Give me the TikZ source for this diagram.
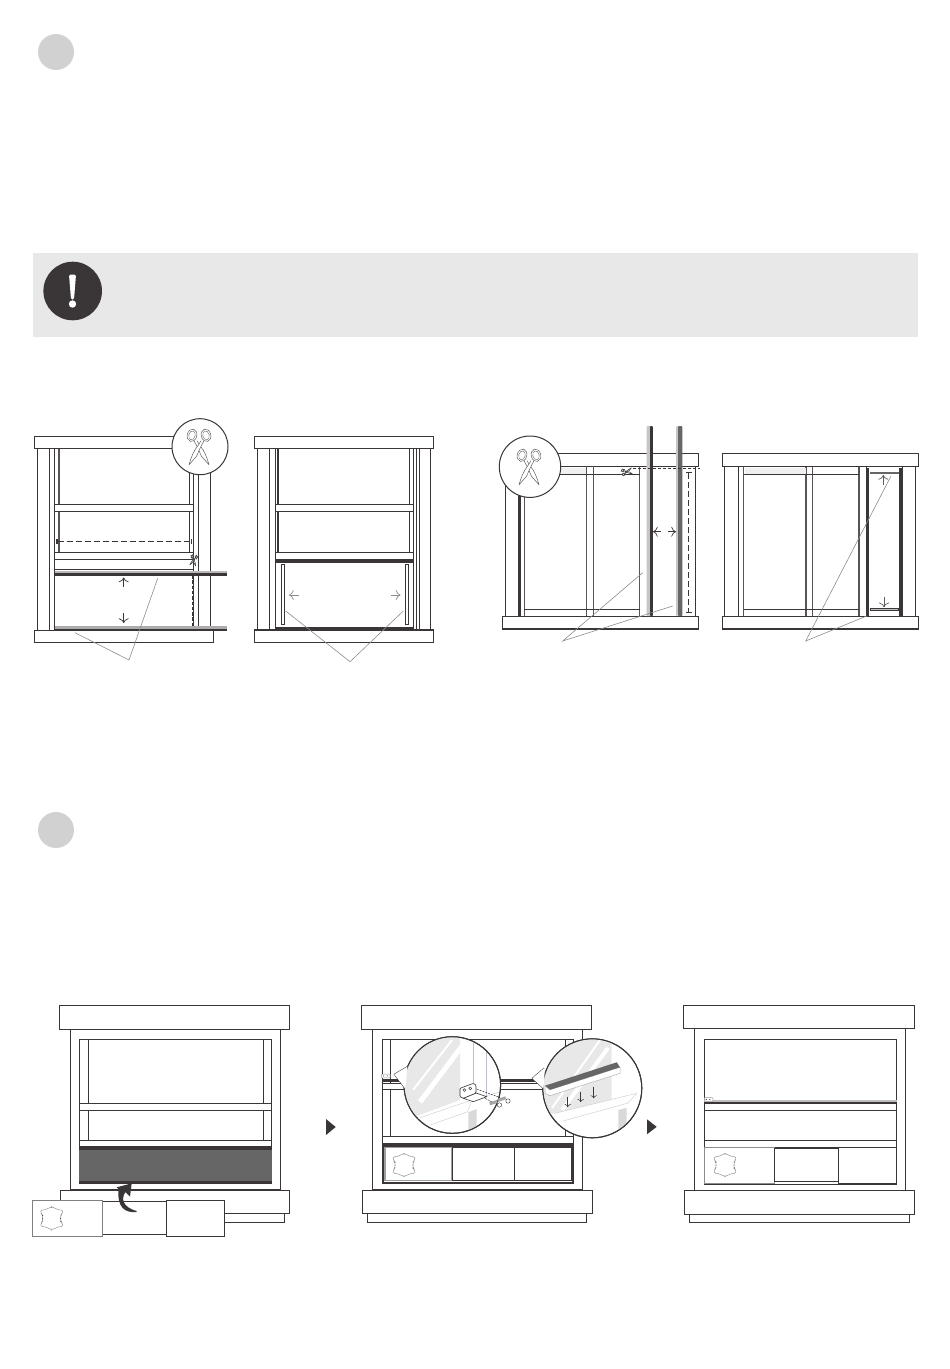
\documentclass[tikz,border=0pt]{standalone}
\usetikzlibrary{arrows.meta}
\definecolor{ink}{HTML}{3A3536}
\definecolor{panelgray}{HTML}{E8E8E8}
\definecolor{stepgray}{HTML}{D1D1D1}
\definecolor{leadgray}{HTML}{8C8C8C}
\definecolor{fillgray}{HTML}{666666}
\tikzset{
  cabline/.style={draw=ink, line width=0.9pt},
  cabbox/.style={cabline, fill=white},
  frameline/.style={draw=ink!85, line width=1.3pt},
  leader/.style={draw=leadgray, line width=0.6pt},
  move/.style={draw=ink, line width=0.7pt, -{>[scale=1.5]}},
  softmove/.style={draw=leadgray, line width=0.7pt, -{>[scale=1.5]}},
  cutline/.style={draw=ink, line width=0.8pt, dash pattern=on 6pt off 3pt},
  bubble/.style={draw=ink, line width=1pt, fill=white},
  shears/.pic={
    \draw[fill=white, draw=#1, line width=0.5pt, line join=round]
    (-5, -7.5) -- (-1.5, -1) -- (2.5, 8) -- (10, 16.5)
    .. controls (8, 9) and (5, 2) .. (1.5, -2) -- (-2, -7.5);
    \draw[fill=white, draw=#1, line width=0.5pt, line join=round]
    (5, -7.5) -- (1.5, -1) -- (-2.5, 8) -- (-10, 16.5)
    .. controls (-8, 9) and (-5, 2) .. (-1.5, -2) -- (2, -7.5);
    \foreach \side in {-1, 1} {
      \draw[fill=white, draw=#1, line width=0.5pt, rotate around={\side*15:(\side*7, -13)}]
      (\side*7, -13) ellipse [x radius=4.8, y radius=6.3];
      \draw[draw=#1, line width=0.4pt, rotate around={\side*15:(\side*7, -13)}]
      (\side*7, -13) ellipse [x radius=3.2, y radius=4.5];
    }
  },
  plate/.pic={
    \draw[draw=leadgray, line width=0.45pt, rounded corners=1.5pt]
    (0, -11.5) -- (8, -8) -- (11, -8.5) -- (10.5, -4.5) -- (9, -3) -- (9, 3)
    -- (10.5, 4.5) -- (11, 8.5) -- (8, 8) -- (0, 11.5) -- (-8, 8) -- (-11, 8.5)
    -- (-10.5, 4.5) -- (-9, 3) -- (-9, -3) -- (-10.5, -4.5) -- (-11, -8.5)
    -- (-8, -8) -- cycle;
    \foreach \xpt/\ypt in {0/-11.5, 0/11.5, -9/0, 9/0, -9/-3, 9/3}
      \fill[ink] (\xpt, \ypt) circle [radius=0.5];
  },
  clip bracket/.pic={
    \draw[draw=gray!80, line width=0.5pt, fill=white, rounded corners=0.5pt] (0, 0) rectangle (8.5, 3.8);
    \fill[ink] (2, 1.9) circle [radius=0.6];
    \fill[ink] (5.5, 1.9) circle [radius=0.6];
  },
}
\begin{document}
\begin{tikzpicture}[x=1pt, y=-1pt]
  \useasboundingbox (0, 0) rectangle (950, 1369);
  % step marks and warning strip
  \fill[stepgray] (56, 52) circle [radius=18];
  \fill[stepgray] (56, 830) circle [radius=18];
  \fill[panelgray] (33, 253) rectangle (918, 337);
  \fill[ink] (72.7, 291) circle [radius=29.3];
  \fill[white, rounded corners=1.5pt] (69, 274.5) -- (76, 274.5) -- (74, 299.5) -- (71, 299.5) -- cycle;
  \fill[white] (72.5, 304) circle [radius=3.7];

  % panel A
  \pgfmathsetmacro{\topa}{436.7}
  \pgfmathsetmacro{\topb}{448.7}
  \pgfmathsetmacro{\lowa}{630}
  \pgfmathsetmacro{\lowb}{642.3}
  \draw[cabline] (37.3, \topb) -- (37.3, \lowa);
  \draw[cabline] (49.3, \topb) -- (49.3, \lowa);
  \draw[cabline] (54.7, \topb) -- (54.7, \lowa);
  \draw[cabline, line width=1.6pt, draw=ink!85] (58.8, \topb) -- (58.8, 504);
  \draw[cabline, line width=1.6pt, draw=ink!85] (58.8, 511) -- (58.8, 552.7);
  \draw[cabline] (189.3, \topb) -- (189.3, 552.7);
  \draw[cabline] (193.3, \topb) -- (193.3, 630);
  \draw[cabline] (198.3, \topb) -- (198.3, 630);
  \draw[cabline] (210.7, \topb) -- (210.7, 630);
  \draw[cabbox] (54.7, 504.3) rectangle (193.3, 511);
  \draw[cabbox] (54.7, 552.7) rectangle (193.3, 559.7);
  \draw[cabline] (54.7, 569.3) -- (193.3, 569.3);
  \draw[cutline] (57.5, 541.3) -- (191, 541.3);
  \fill[ink] (56, 539) rectangle (58, 543.5);
  \draw[cabline] (191, 539) -- (191, 543.5);
  \draw[cutline, line width=1.1pt, dash pattern=on 3.5pt off 1.8pt] (192.7, 575) -- (192.7, 626);
  \fill[gray!55] (54.7, 570.7) rectangle (226.7, 573);
  \fill[ink] (54.7, 573) rectangle (226.7, 575.7);
  \fill[gray!65] (54.7, 625.7) rectangle (226.7, 628.5);
  \fill[ink] (54.7, 628.5) rectangle (226.7, 631);
  \draw[cabline, fill=white] (34.3, 630.3) -- (213.3, 630.3) -- (213.3, \lowb) -- (34.3, \lowb) -- cycle;
  \draw[cabbox] (34.3, \topa) rectangle (213, \topb);
  \draw[move] (123.7, 586.7) -- (123.7, 577.5);
  \draw[move] (123.7, 613) -- (123.7, 623);
  \pic[scale=0.3, rotate=-10] at (193.6, 560.5) {shears=ink};
  \draw[bubble] (200, 446.7) circle [radius=28];
  \pic at (199, 448.3) {shears=gray!75!black};
  \coordinate (leadAa) at (157.7, 578.3);
  \coordinate (leadAb) at (129, 660);
  \coordinate (leadAc) at (75, 632.7);
  \draw[leader] (leadAa) -- (leadAb) -- (leadAc);

  % panel B
  \draw[cabline] (257.7, \topb) -- (257.7, \lowa);
  \draw[cabline] (269.7, \topb) -- (269.7, \lowa);
  \draw[cabline] (275, \topb) -- (275, \lowa);
  \draw[cabline, line width=1.4pt] (278, \topb) -- (278, 504);
  \draw[cabline, line width=1.4pt] (278, 511) -- (278, 552.7);
  \draw[cabline] (409.3, \topb) -- (409.3, 552.7);
  \draw[cabline] (413.7, \topb) -- (413.7, \lowa);
  \draw[cabline, line width=1.4pt] (416.7, \topb) -- (416.7, \lowa);
  \draw[cabline] (419, \topb) -- (419, \lowa);
  \draw[cabline] (430.7, \topb) -- (430.7, \lowa);
  \draw[cabbox] (275, 504.3) rectangle (413.7, 511);
  \draw[cabbox] (275, 552.7) rectangle (413.7, 559.7);
  \fill[ink] (275, 559.7) rectangle (413.7, 562.7);
  \fill[ink] (275, 627) rectangle (413.7, 630.3);
  \draw[cabline, line width=0.7pt] (281.7, 564) rectangle (284.3, 624.3);
  \draw[cabline, line width=0.7pt] (405.2, 564) rectangle (408, 624.3);
  \draw[cabbox, line width=1.1pt] (254.7, \topa) rectangle (433.3, \topb);
  \draw[cabbox, line width=1.1pt] (254.7, \lowa) rectangle (433.3, \lowb);
  \draw[softmove] (299.3, 595) -- (289, 595);
  \draw[softmove] (390.7, 595) -- (400.5, 595);
  \coordinate (leadBa) at (285.7, 611);
  \coordinate (leadBb) at (350, 661.7);
  \coordinate (leadBc) at (403.3, 611);
  \draw[leader] (leadBa) -- (leadBb) -- (leadBc);

  % panel C
  \pgfmathsetmacro{\upa}{453.3}
  \pgfmathsetmacro{\upb}{466.3}
  \pgfmathsetmacro{\dna}{616}
  \pgfmathsetmacro{\dnb}{629}
  \draw[cabbox] (530, \upa) rectangle (698.7, \upb);
  \draw[cabline] (505.7, \upb) -- (505.7, \dna);
  \draw[cabline] (518.3, \upb) -- (518.3, \dna);
  \draw[frameline] (524.3, \upb) -- (524.3, \dna);
  \draw[frameline] (586.7, \upb) -- (586.7, \dna);
  \draw[frameline] (593.3, \upb) -- (593.3, \dna);
  \draw[frameline] (639.7, \upb) -- (639.7, \dna);
  \draw[cabline] (695, \upb) -- (695, \dna);
  \draw[cabline] (524.3, 474.3) -- (639.7, 474.3);
  \draw[cabline] (524.3, 609.3) -- (639.7, 609.3);
  \fill[gray!12] (525, 467.5) rectangle (586, 473.7);
  \fill[ink] (518.6, 466.3) rectangle (521, 616);
  \draw[cabbox] (502.7, \dna) rectangle (698.7, \dnb);
  \draw[cabline, line width=1.5pt] (502.7, \dnb) -- (698.7, \dnb);
  \fill[gray!45, rounded corners=0.8pt] (646.7, 426) rectangle (650.5, 616);
  \fill[ink, rounded corners=0.8pt] (650, 426) rectangle (652.8, 616);
  \fill[gray!45, rounded corners=0.8pt] (676, 426) rectangle (678, 616);
  \fill[fillgray, rounded corners=0.8pt] (678, 426) rectangle (682.3, 616);
  \draw[cutline, line width=0.7pt, dash pattern=on 3pt off 2pt] (633, 468.3) -- (700, 468.3);
  \draw[cutline, line width=0.9pt] (688.7, 473) -- (688.7, 611.5);
  \draw[cabline] (686, 472) -- (691.5, 472);
  \draw[cabline] (686, 612.3) -- (691.5, 612.3);
  \draw[move] (661, 531.7) -- (653, 531.7);
  \draw[move] (668.3, 531.7) -- (676, 531.7);
  \pic[scale=0.3, rotate=100] at (627, 471.7) {shears=ink};
  \draw[bubble] (530, 466.7) circle [radius=30.7];
  \pic at (529, 468.3) {shears=gray!75!black};
  \coordinate (leadCa) at (642.7, 572.7);
  \coordinate (leadCb) at (562.7, 641);
  \coordinate (leadCc) at (672.7, 606);
  \draw[leader] (leadCa) -- (leadCb) -- (leadCc);

  % panel D
  \draw[cabline] (724.3, \upb) -- (724.3, \dna);
  \draw[cabline] (738.3, \upb) -- (738.3, \dna);
  \draw[frameline] (743.5, \upb) -- (743.5, \dna);
  \draw[frameline] (806, \upb) -- (806, \dna);
  \draw[frameline] (812.7, \upb) -- (812.7, \dna);
  \draw[frameline] (859, \upb) -- (859, \dna);
  \draw[cabline] (866, \upb) -- (866, \dna);
  \draw[cabline] (902, \upb) -- (902, \dna);
  \draw[cabline] (915.7, \upb) -- (915.7, \dna);
  \draw[cabline] (743.5, 474.3) -- (859, 474.3);
  \draw[cabline] (743.5, 609.3) -- (859, 609.3);
  \fill[gray!12] (744.5, 467.5) rectangle (805.5, 473.7);
  \fill[ink] (866.7, 467.7) rectangle (869, 616);
  \fill[ink] (899.3, 467.7) rectangle (902, 616);
  \fill[fillgray] (870, 471.7) rectangle (898.7, 474);
  \draw[cabline, line width=0.6pt, fill=gray!50] (870, 608.3) rectangle (898.7, 610.7);
  \draw[cabbox] (722.7, \upa) rectangle (918.3, \upb);
  \draw[cabbox] (722.7, \dna) rectangle (918.3, \dnb);
  \draw[cabline, line width=1.5pt] (722.7, \dnb) -- (918.3, \dnb);
  \draw[softmove, draw=ink!80] (883.3, 485) -- (883.3, 475);
  \draw[softmove, draw=ink!80] (884, 596.7) -- (884, 607.3);
  \coordinate (leadDa) at (891, 476);
  \coordinate (leadDb) at (805.7, 641);
  \coordinate (leadDc) at (866.7, 616);
  \draw[leader] (leadDa) -- (leadDb) -- (leadDc);

  % first cabinet
  \pgfmathsetmacro{\boxa}{1005.3}
  \pgfmathsetmacro{\boxb}{1029.3}
  \pgfmathsetmacro{\basea}{1190.3}
  \pgfmathsetmacro{\baseb}{1213.7}
  \pgfmathsetmacro{\footb}{1222.7}
  \draw[cabbox] (70.7, \boxb) rectangle (280.7, 1189.3);
  \draw[cabbox] (59.3, \boxa) rectangle (289.3, \boxb);
  \draw[cabbox] (79.3, 1039.3) rectangle (271.7, 1183.3);
  \draw[cabline, line width=1.4pt] (79.3, 1039.3) -- (88.3, 1039.3);
  \draw[cabline, line width=1.4pt] (263.3, 1039.3) -- (271.7, 1039.3);
  \draw[cabline] (88.3, 1039.3) -- (88.3, 1140.3);
  \draw[cabline] (263.3, 1039.3) -- (263.3, 1140.3);
  \draw[cabbox] (79.3, 1103.3) rectangle (271.7, 1110.3);
  \draw[cabbox] (79.3, 1140.3) rectangle (271.7, 1146.7);
  \fill[fillgray] (79.3, 1147.3) rectangle (271.7, 1183.3);
  \fill[ink] (79.3, 1147.3) rectangle (271.7, 1150);
  \fill[ink] (79.3, 1180.7) rectangle (271.7, 1183.3);
  \draw[cabbox] (69.5, 1213.7) rectangle (284.3, \footb);
  \draw[cabbox] (60.3, \basea) rectangle (289.3, \baseb);
  \draw[cabbox] (102.3, 1201.3) rectangle (166.3, 1234.3);
  \draw[cabbox] (166.3, 1200.3) rectangle (224.7, 1236.3);
  \draw[draw=gray, line width=1.3pt, fill=white] (32.7, 1200.3) rectangle (102.3, 1236.3);
  \pic at (51.7, 1218.3) {plate};
  \fill[ink] (136.7, 1212) .. controls (125, 1213) and (117, 1208) .. (118.5, 1189)
  -- (116.7, 1187.3) -- (131.7, 1183.3) -- (130, 1196.7) -- (125.5, 1192)
  .. controls (121, 1198) and (122, 1207) .. (136.7, 1211) -- cycle;
  \fill[ink] (326, 1119) -- (335.7, 1127) -- (326, 1135) -- cycle;

  % second cabinet
  \draw[cabbox] (372.7, \boxb) rectangle (582.7, 1189.3);
  \draw[cabbox] (361.3, \boxa) rectangle (591.7, \boxb);
  \draw[cabline] (382.3, 1039.3) rectangle (573.3, 1145);
  \draw[cabline] (390.3, 1039.3) -- (390.3, 1136.3);
  \draw[cabline] (565, 1039.3) -- (565, 1136.3);
  \draw[cabbox] (382.3, 1083.3) rectangle (573.3, 1089);
  \fill[ink] (382.3, 1078.6) rectangle (573.3, 1081.5);
  \draw[cabbox] (382.3, 1136.3) rectangle (573.3, 1143.3);
  \pic at (381.7, 1074) {clip bracket};
  \fill[ink] (382.3, 1143.3) rectangle (574.3, 1145.7);
  \draw[cabbox, line width=1.8pt] (383.2, 1146) rectangle (573.3, 1182.7);
  \draw[draw=gray!75, line width=1.1pt] (385, 1147.3) rectangle (451.7, 1180.3);
  \draw[cabline] (452.7, 1147.3) rectangle (514.3, 1180.3);
  \draw[cabline] (514.3, 1147.3) rectangle (571.7, 1180.3);
  \pic at (404, 1165) {plate};
  \draw[cabbox] (367.3, 1213.7) rectangle (586.7, \footb);
  \draw[cabbox] (362.7, \basea) rectangle (592.7, \baseb);
  \fill[ink] (647, 1119.3) -- (656.7, 1126.8) -- (647, 1134.3) -- cycle;

  % detail with the bracket
  \coordinate (bubbleA) at (452.3, 1085);
  \coordinate (tailA) at (394.3, 1074.3);
  \draw[bubble] (bubbleA) circle [radius=48.3];
  \fill[white] (407.3, 1066.7) -- (tailA) -- (405, 1088.3) -- (412, 1085) -- cycle;
  \draw[ink, line width=1pt] (407.3, 1066.7) -- (tailA) -- (405, 1088.3);
  \begin{scope}
    \clip (bubbleA) circle [radius=47.8];
    \fill[panelgray] (400, 1030) -- (460, 1030) -- (460, 1100) -- (415, 1116.7) -- (400, 1122) -- cycle;
    \draw[white, line width=2pt] (413, 1090) -- (452, 1040);
    \draw[white, line width=5pt] (420, 1102) -- (462, 1046);
    \draw[blue!15!gray!45, line width=0.5pt] (473.3, 1040) -- (473.3, 1084);
    \draw[blue!15!gray!45, line width=0.5pt] (486.7, 1040) -- (486.7, 1096);
    \fill[gray!30] (468.3, 1112.3) -- (476.7, 1109) -- (476.7, 1135) -- (468.3, 1135) -- cycle;
    \draw[gray!35, line width=0.5pt] (420, 1117.7) -- (471.7, 1100) -- (467.7, 1111.7) -- (430, 1125);
    \draw[gray!35, line width=0.5pt] (471.7, 1100) -- (500, 1092);
    \draw[ink, line width=0.6pt, fill=white] (463.3, 1098.3) -- (473.3, 1101.7) -- (486.7, 1096.7) -- (476, 1093) -- cycle;
    \draw[ink, line width=0.6pt, fill=white, rounded corners=1pt] (460, 1088.3) -- (473.3, 1083.3) -- (476, 1085) -- (476, 1093) -- (463.3, 1098.3) -- (460, 1096.7) -- cycle;
    \draw[ink, line width=0.5pt] (464.3, 1090) circle [radius=1.4];
    \draw[ink, line width=0.5pt] (470.3, 1088.3) circle [radius=1.4];
  \end{scope}
  \draw[bubble, fill=none] (bubbleA) circle [radius=48.3];
  \fill[white] (407.3, 1066.7) -- (tailA) -- (405, 1088.3) -- (406.5, 1078) -- cycle;
  \draw[ink, line width=0.5pt, dash pattern=on 2pt off 1pt] (476.7, 1089) -- (500, 1097.5);
  \draw[ink, line width=0.5pt, dash pattern=on 2pt off 1pt] (485, 1098.3) -- (492, 1102);
  \fill[gray!70, rotate around={18:(502, 1099)}] (498, 1097.5) rectangle (506, 1100.5);
  \draw[ink, line width=0.4pt, fill=white] (508, 1101) circle [radius=2.2];
  \fill[gray!70, rotate around={18:(493.3, 1102.7)}] (489.5, 1101.2) rectangle (497.5, 1104.2);
  \draw[ink, line width=0.4pt, fill=white] (499.5, 1105) circle [radius=2.2];

  % detail with the rail
  \coordinate (bubbleB) at (592.3, 1088.3);
  \coordinate (tailB) at (532.3, 1078.3);
  \draw[bubble] (bubbleB) circle [radius=49.5];
  \fill[white] (544, 1068.3) -- (tailB) -- (543.3, 1088.3) -- (549, 1085) -- cycle;
  \draw[ink, line width=1pt] (544, 1068.3) -- (tailB) -- (543.3, 1088.3);
  \begin{scope}
    \clip (bubbleB) circle [radius=49];
    \fill[panelgray] (540, 1030) -- (611.7, 1030) -- (611.7, 1099.4) -- (555, 1113.3) -- (540, 1117) -- cycle;
    \draw[white, line width=2pt] (552, 1108) -- (600, 1040);
    \draw[white, line width=4pt] (562, 1110) -- (608, 1048);
    \fill[gray!30] (618.3, 1110) -- (626.7, 1107.7) -- (626.7, 1140) -- (618.3, 1140) -- cycle;
    \draw[gray!35, line width=0.5pt] (555, 1113.3) -- (636.7, 1093.3) -- (628, 1103) -- (563, 1121);
    \draw[gray!60, line width=0.5pt, fill=white] (545, 1085.7) -- (550, 1089.8) -- (620, 1067.2) -- (620, 1073.3) -- (550, 1095.7) -- (545, 1093.3) -- cycle;
    \fill[fillgray] (545, 1085.7) -- (616.7, 1062.3) -- (620, 1067.2) -- (550, 1089.8) -- cycle;
    \draw[move, line width=0.5pt, -{>[scale=1.1]}] (567.7, 1096.7) -- (567.7, 1107);
    \draw[move, line width=0.5pt, -{>[scale=1.1]}] (580.7, 1091.7) -- (580.7, 1102);
    \draw[move, line width=0.5pt, -{>[scale=1.1]}] (593.7, 1086.7) -- (593.7, 1098.3);
  \end{scope}
  \draw[bubble, fill=none] (bubbleB) circle [radius=49.5];
  \fill[white] (544, 1068.3) -- (tailB) -- (543.3, 1088.3) -- (544.5, 1078) -- cycle;

  % third cabinet
  \draw[cabbox] (694.3, 1028.7) rectangle (905.3, 1190);
  \draw[cabbox] (683.3, \boxa) rectangle (914.3, 1028.7);
  \draw[cabline, line width=1.1pt] (683.3, 1028.7) -- (914.3, 1028.7);
  \draw[cabbox, line width=1.1pt] (704.3, 1039.3) rectangle (896.7, 1184.3);
  \fill[gray!50] (704.3, 1100.3) rectangle (896.7, 1101.8);
  \fill[ink] (704.3, 1101.8) rectangle (896.7, 1103.7);
  \draw[cabline] (704.3, 1110.3) -- (896.7, 1110.3);
  \draw[cabline] (704.3, 1140.3) -- (896.7, 1140.3);
  \draw[cabline] (704.3, 1147.3) -- (896.7, 1147.3);
  \pic at (704.3, 1097.7) {clip bracket};
  \draw[draw=gray!90, line width=1.2pt, fill=white] (704.8, 1147.8) rectangle (774.3, 1183.8);
  \draw[cabline, line width=1.2pt] (774.3, 1148.7) rectangle (838.3, 1181.3);
  \draw[cabline] (774.3, 1184) -- (838.3, 1184);
  \draw[cabline] (838.3, 1147.3) -- (838.3, 1184.3);
  \draw[cabline, line width=1.2pt] (838.3, 1183.7) -- (896.7, 1183.7);
  \pic at (725, 1165) {plate};
  \draw[cabbox] (689.3, 1214.3) rectangle (909.3, \footb);
  \draw[cabbox] (684.3, \basea) rectangle (914.3, 1214.3);
\end{tikzpicture}
\end{document}
